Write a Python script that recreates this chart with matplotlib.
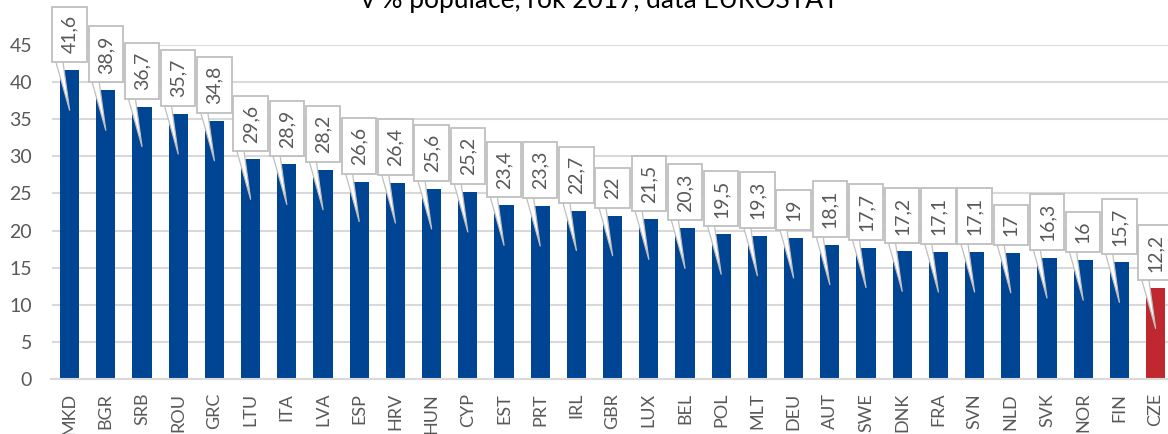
import matplotlib
matplotlib.use("Agg")
import matplotlib.pyplot as plt
import matplotlib.transforms as mtransforms

plt.rcParams['font.family'] = ['Lato', 'DejaVu Sans']

countries = ["MKD", "BGR", "SRB", "ROU", "GRC", "LTU", "ITA", "LVA", "ESP", "HRV",
             "HUN", "CYP", "EST", "PRT", "IRL", "GBR", "LUX", "BEL", "POL", "MLT",
             "DEU", "AUT", "SWE", "DNK", "FRA", "SVN", "NLD", "SVK", "NOR", "FIN", "CZE"]
values = [41.6, 38.9, 36.7, 35.7, 34.8, 29.6, 28.9, 28.2, 26.6, 26.4,
          25.6, 25.2, 23.4, 23.3, 22.7, 22.0, 21.5, 20.3, 19.5, 19.3,
          19.0, 18.1, 17.7, 17.2, 17.1, 17.1, 17.0, 16.3, 16.0, 15.7, 12.2]
labels = ["41,6", "38,9", "36,7", "35,7", "34,8", "29,6", "28,9", "28,2", "26,6", "26,4",
          "25,6", "25,2", "23,4", "23,3", "22,7", "22", "21,5", "20,3", "19,5", "19,3",
          "19", "18,1", "17,7", "17,2", "17,1", "17,1", "17", "16,3", "16", "15,7", "12,2"]
highlight = "CZE"
title = "v % populace, rok 2017, data EUROSTAT"
yticks = [0, 5, 10, 15, 20, 25, 30, 35, 40, 45]

BLUE = "#004494"
RED = "#C0282F"
GRID = "#d9d9d9"
TXT = "#595959"

W, H, DPI = 1168, 434, 100
fig = plt.figure(figsize=(W / DPI, H / DPI), dpi=DPI)
left_px, bottom_px = 51.5, 434 - 379
width_px = 31 * 36.2
height_px = 379 - 45
ax = fig.add_axes([left_px / W, bottom_px / H, width_px / W, height_px / H])

x = list(range(len(countries)))
colors = [RED if c == highlight else BLUE for c in countries]
ax.bar(x, values, width=0.525, color=colors, zorder=2)

ax.set_xlim(-0.5, len(countries) - 0.5)
ax.set_ylim(0, 45)
ax.set_yticks(yticks)
ax.set_xticks(x)
ax.set_xticklabels(countries, rotation=90)
ax.yaxis.grid(True, color=GRID, linewidth=1.5, zorder=0)
ax.set_axisbelow(True)
for s in ["top", "right", "left"]:
    ax.spines[s].set_visible(False)
ax.spines["bottom"].set_color(GRID)
ax.spines["bottom"].set_linewidth(1.5)
ax.tick_params(axis="both", length=0, colors=TXT)
ax.tick_params(axis="y", pad=14, labelsize=14)
ax.tick_params(axis="x", pad=10, labelsize=13)

tip_trans = ax.transData + mtransforms.ScaledTranslation(0, -40 / DPI, fig.dpi_scale_trans)
fs = 14
pad = 0.45
offset_pt = 40 * 72 / DPI + 8 * 72 / DPI + pad * fs
for i, (v, lab) in enumerate(zip(values, labels)):
    ax.annotate(lab, xy=(i, v), xycoords=tip_trans,
                xytext=(0, offset_pt), textcoords="offset points",
                rotation=90, ha="center", va="bottom", fontsize=fs, color=TXT,
                bbox=dict(boxstyle=f"square,pad={pad}", fc="white", ec="#bfbfbf", lw=1.3),
                arrowprops=dict(arrowstyle="wedge,tail_width=0.42", fc="white", ec="#bfbfbf",
                                lw=0.9, relpos=(-0.2, 0.0), patchA=None, shrinkA=0, shrinkB=0),
                annotation_clip=False, zorder=5)

fig.text(600 / W, 1 - 8 / H, title, ha="center", va="baseline", fontsize=19, color="#000000")

fig.savefig("out.png", dpi=DPI)
